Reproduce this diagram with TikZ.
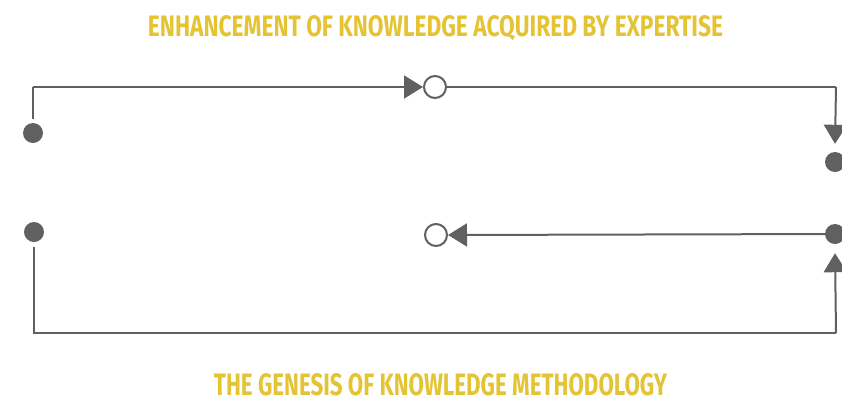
\documentclass[tikz,border=0pt]{standalone}
\usepackage{fontspec}
\setmainfont{Fira Sans}
\usetikzlibrary{arrows.meta}
\definecolor{gold}{HTML}{E4C435}
\definecolor{linegray}{HTML}{606060}
\tikzset{
  x=1pt, y=-1pt,
  conn/.style={draw=linegray, line width=2pt},
  arr/.style={conn, -{Triangle[length=19pt,width=23pt]}},
  fulldot/.style={circle, fill=linegray, inner sep=0pt, minimum width=19pt, minimum height=20pt},
  opendot/.style={circle, draw=linegray, line width=2pt, fill=white, inner sep=0pt, minimum size=22pt},
  title/.style={text=gold, inner sep=0pt, anchor=base, font=\bfseries\fontsize{30}{30}\selectfont}
}
\begin{document}
\begin{tikzpicture}
\useasboundingbox (0,0) rectangle (842,400);
\clip (0,0) rectangle (842,400);
% titles
\node[title] (t1) at (435.5,36) {\resizebox{575pt}{21pt}{ENHANCEMENT OF KNOWLEDGE ACQUIRED BY EXPERTISE}};
\node[title] (t2) at (440.5,395) {\resizebox{453pt}{22pt}{THE GENESIS OF KNOWLEDGE METHODOLOGY}};
% top loop
\node[fulldot] (a1) at (33,133) {};
\node[opendot] (o1) at (435,87) {};
\node[fulldot] (b1) at (835,162) {};
\coordinate (c1) at (33,87);
\coordinate (d1) at (836,87);
\draw[conn] ([yshift=4pt]a1.north) -- (c1);
\draw[arr] (c1) -- (o1.west);
\draw[conn] (o1.east) -- (d1);
\draw[arr] (d1) -- ([yshift=8pt]b1.north);
% bottom loop
\node[fulldot] (a2) at (34,232) {};
\node[opendot] (o2) at (436,235) {};
\node[fulldot] (b2) at (835,234) {};
\coordinate (c2) at (34,333);
\coordinate (d2) at (836,333);
\draw[conn] ([yshift=-5pt]a2.south) -- (c2) -- (d2);
\draw[arr] (d2) -- ([yshift=-9pt]b2.south);
\draw[arr] (b2) -- (o2.east);
\end{tikzpicture}
\end{document}
